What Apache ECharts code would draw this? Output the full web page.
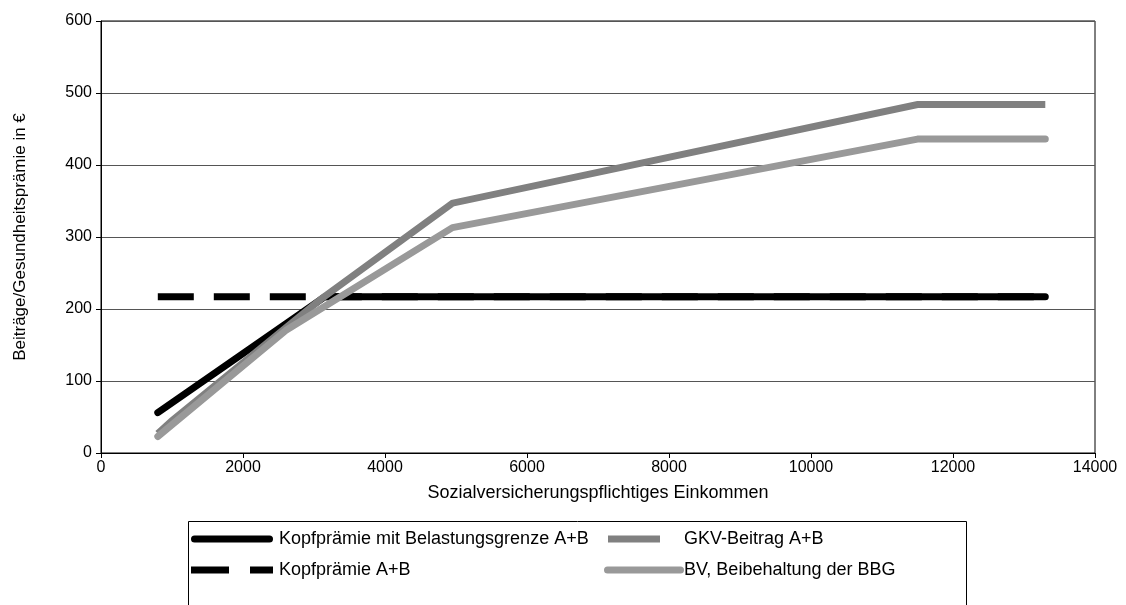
<!DOCTYPE html>
<html>
<head>
<meta charset="utf-8">
<script src="https://cdn.jsdelivr.net/npm/echarts@6/dist/echarts.min.js"></script>
<style>
html,body{margin:0;padding:0;background:#fff;}
#chart{width:1126px;height:605px;}
</style>
</head>
<body>
<div id="chart"></div>
<script>
// ---- data ----
const seriesNames = ['Kopfprämie mit Belastungsgrenze A+B', 'Kopfprämie A+B', 'GKV-Beitrag A+B', 'BV, Beibehaltung der BBG'];

const kopfBgIncome = [800, 3150, 13300];
const kopfBgValue  = [56, 217, 217];

const kopfIncome = [800, 13300];
const kopfValue  = [217, 217];

const gkvIncome = [800, 1000, 3100, 4950, 11500, 13300];
const gkvValue  = [27, 45, 214, 347, 484, 484];

const bvIncome = [800, 2600, 4950, 11500, 13300];
const bvValue  = [23, 170, 313, 436, 436];

const xTicks = [0, 2000, 4000, 6000, 8000, 10000, 12000, 14000];
const yTicks = [0, 100, 200, 300, 400, 500, 600];

function pairs(xs, ys){ return xs.map((x,i)=>[x, ys[i]]); }

const FONT = 'Liberation Sans, Arial, sans-serif';
const chart = echarts.init(document.getElementById('chart'), null, {renderer:'canvas'});

const option = {
  animation: false,
  backgroundColor: '#ffffff',
  grid: {left: 101, right: 31, top: 21, bottom: 152, containLabel: false,
         show: true, borderColor: '#000', borderWidth: 1},
  xAxis: {
    type: 'value', min: xTicks[0], max: xTicks[xTicks.length-1], interval: 2000,
    name: 'Sozialversicherungspflichtiges Einkommen', nameLocation: 'middle', nameGap: 31,
    nameTextStyle: {fontFamily: FONT, fontSize: 18, color: '#000'},
    axisLine: {show: true, lineStyle: {color: '#000', width: 1}},
    axisTick: {show: true, length: 5, lineStyle: {color: '#000'}},
    axisLabel: {fontFamily: FONT, fontSize: 16, color: '#000', margin: 7, formatter: v => String(v)},
    splitLine: {show: false}
  },
  yAxis: {
    type: 'value', min: yTicks[0], max: yTicks[yTicks.length-1], interval: 100,
    name: 'Beiträge/Gesundheitsprämie in €', nameLocation: 'middle', nameGap: 72, nameRotate: 90,
    nameTextStyle: {fontFamily: FONT, fontSize: 17, color: '#000'},
    axisLine: {show: true, lineStyle: {color: '#000', width: 1}},
    axisTick: {show: true, length: 5, lineStyle: {color: '#000'}},
    axisLabel: {fontFamily: FONT, fontSize: 16, color: '#000', margin: 9, formatter: v => String(v)},
    splitLine: {show: true, lineStyle: {color: '#555', width: 1}}
  },
  legend: [
    {
      orient: 'vertical', left: 186, top: 525, itemGap: 13, itemWidth: 82, itemHeight: 7,
      itemStyle: {borderWidth: 0},
      textStyle: {fontFamily: FONT, fontSize: 18, color: '#000', padding: [0,0,0,1]},
      data: [
        {name: seriesNames[0], icon: 'path://M3.5,0H78.5A3.5,3.5,0,0,1,78.5,7H3.5A3.5,3.5,0,0,1,3.5,0Z'},
        {name: seriesNames[1], icon: 'path://M0,0H38V7H0ZM59,0H82V7H59Z'}
      ]
    },
    {
      orient: 'vertical', left: 599, top: 525, itemGap: 13, itemWidth: 80, itemHeight: 7,
      itemStyle: {borderWidth: 0},
      textStyle: {fontFamily: FONT, fontSize: 18, color: '#000', padding: [0,0,0,-5]},
      data: [
        {name: seriesNames[2], icon: 'path://M0,3.5L0,3.5ZM4,0H56V7H4ZM80,3.5L80,3.5Z'},
        {name: seriesNames[3], icon: 'path://M3.5,0H76.5A3.5,3.5,0,0,1,76.5,7H3.5A3.5,3.5,0,0,1,3.5,0Z'}
      ]
    }
  ],
  graphic: [{
    type: 'rect', left: 186, top: 519, shape: {width: 778, height: 100},
    style: {fill: 'none', stroke: '#000', lineWidth: 1}, silent: true, z: -1
  }],
  series: [
    {name: seriesNames[0], type: 'line', data: pairs(kopfBgIncome, kopfBgValue), symbol: 'none',
     lineStyle: {color: '#000', width: 7, cap: 'round', join: 'round'}, itemStyle: {color: '#000'}},
    {name: seriesNames[1], type: 'line', data: pairs(kopfIncome, kopfValue), symbol: 'none',
     lineStyle: {color: '#000', width: 7, type: [36, 20], cap: 'butt'}, itemStyle: {color: '#000'}},
    {name: seriesNames[2], type: 'line', data: pairs(gkvIncome, gkvValue), symbol: 'none',
     lineStyle: {color: '#808080', width: 7, cap: 'butt', join: 'miter'}, itemStyle: {color: '#808080'}},
    {name: seriesNames[3], type: 'line', data: pairs(bvIncome, bvValue), symbol: 'none',
     lineStyle: {color: '#999999', width: 7, cap: 'round', join: 'round'}, itemStyle: {color: '#999999'}}
  ]
};
chart.setOption(option);
</script>
</body>
</html>
